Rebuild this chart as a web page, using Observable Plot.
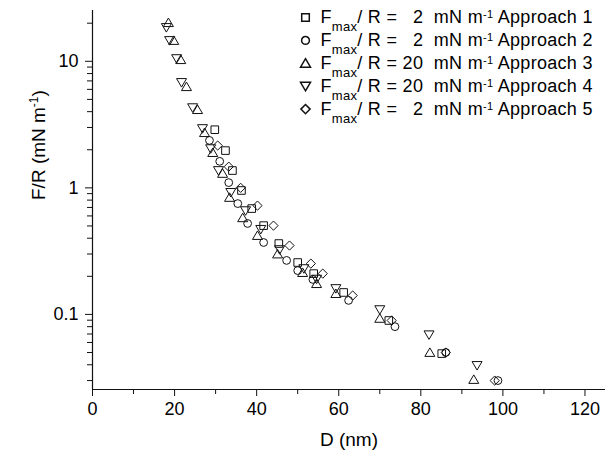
<!DOCTYPE html>
<html><head><meta charset="utf-8">
<script src="https://cdn.jsdelivr.net/npm/d3@7"></script>
<script src="https://cdn.jsdelivr.net/npm/@observablehq/plot@0.6"></script>
<style>
body{margin:0;background:#fff;}
svg text{font-family:"Liberation Sans",Arial,sans-serif;}
</style>
</head><body><div id="chart"></div>
<script>
// Approach 1 (squares), Fmax/R = 2 mN/m
const D1 = [29.8,32.4,34.1,36.3,38.8,41.7,45.4,50.0,53.9,61.2,72.2,85.1];
const F1 = [2.88,1.97,1.37,0.953,0.686,0.503,0.363,0.257,0.210,0.149,0.0895,0.049];
// Approach 2 (circles), Fmax/R = 2 mN/m
const D2 = [28.5,31.0,33.2,35.4,37.8,41.7,47.3,50.0,53.7,62.4,73.7,86.1,98.8];
const F2 = [2.37,1.62,1.10,0.751,0.523,0.370,0.267,0.222,0.189,0.129,0.080,0.050,0.030];
// Approach 3 (up triangles), Fmax/R = 20 mN/m
const D3 = [18.5,19.8,21.5,22.9,25.6,27.3,29.3,31.7,33.4,36.6,40.2,45.1,51.2,54.6,59.3,70.0,82.2,92.9];
const F3 = [20.2,14.6,10.3,6.3,4.15,2.73,1.90,1.30,0.84,0.58,0.42,0.30,0.214,0.175,0.146,0.093,0.050,0.0306];
// Approach 4 (down triangles), Fmax/R = 20 mN/m
const D4 = [18.0,18.8,20.5,21.7,24.4,26.8,28.8,30.7,33.7,37.3,41.0,45.6,51.5,54.6,59.3,70.0,82.0,93.7];
const F4 = [18.5,14.6,10.5,6.8,4.3,2.94,2.04,1.37,0.92,0.66,0.47,0.325,0.23,0.19,0.16,0.109,0.069,0.0395];
// Approach 5 (diamonds), Fmax/R = 2 mN/m
const D5 = [30.5,33.2,36.1,40.2,44.1,48.0,53.2,56.1,63.4,72.9,86.1,98.0];
const F5 = [2.16,1.47,1.00,0.724,0.503,0.350,0.252,0.210,0.141,0.0895,0.050,0.030];

const xMajor = [0,20,40,60,80,100,120];
const xMinor = [10,30,50,70,90,110];
const yMajor = [0.1,1,10];
const yMinor = [0.03,0.04,0.05,0.06,0.07,0.08,0.09,0.2,0.3,0.4,0.5,0.6,0.7,0.8,0.9,2,3,4,5,6,7,8,9,20];

const legendFmax = ["\u20072","\u20072","20","20","\u20072"];
const legendNames = ["Approach 1","Approach 2","Approach 3","Approach 4","Approach 5"];

// symbols
const sq = {draw(c){const h=3.8;c.moveTo(-h,-h);c.lineTo(h,-h);c.lineTo(h,h);c.lineTo(-h,h);c.closePath();}};
const ci = {draw(c){const a=3.9;c.moveTo(a,0);c.arc(0,0,a,0,2*Math.PI);c.closePath();}};
const up = {draw(c){c.moveTo(0,-4.6);c.lineTo(5,3.9);c.lineTo(-5,3.9);c.closePath();}};
const dn = {draw(c){c.moveTo(0,4.6);c.lineTo(5,-3.9);c.lineTo(-5,-3.9);c.closePath();}};
const di = {draw(c){const a=4.6;c.moveTo(0,-a);c.lineTo(a,0);c.lineTo(0,a);c.lineTo(-a,0);c.closePath();}};

const series = [
  {D:D1,F:F1,sym:sq},{D:D2,F:F2,sym:ci},{D:D3,F:F3,sym:up},{D:D4,F:F4,sym:dn},{D:D5,F:F5,sym:di}
];

const INK = "#111";
const marks = [];
// axis lines
marks.push(Plot.ruleX([0],{stroke:INK,strokeWidth:1.2}));
marks.push(Plot.ruleY([0.0255],{stroke:INK,strokeWidth:1.2}));
// axes
marks.push(Plot.axisX({ticks:xMajor,tickSize:7,tickPadding:6,fontSize:18,label:null,tickFormat:d=>String(d),stroke:INK}));
marks.push(Plot.axisX({ticks:xMinor,tickSize:5,text:null,label:null,stroke:INK}));
marks.push(Plot.axisY({ticks:yMajor,tickSize:7,tickPadding:7,fontSize:18,label:null,tickFormat:d=>String(d),stroke:INK}));
marks.push(Plot.axisY({ticks:yMinor,tickSize:5,text:null,label:null,stroke:INK}));
// data
series.forEach(s=>{
  marks.push(Plot.dot(s.D.map((d,i)=>({D:d,F:s.F[i]})),{x:"D",y:"F",symbol:s.sym,r:4,fill:"none",stroke:INK,strokeWidth:1}));
});
// legend
const syms=[sq,ci,up,dn,di];
legendNames.forEach((n,i)=>{
  const dy = 7 + i*22.9;
  marks.push(Plot.dot([0],{x:null,y:null,frameAnchor:"top-left",dx:213,dy,symbol:syms[i],r:4,fill:"none",stroke:INK}));
  marks.push(Plot.text([`LEG${i}`],{frameAnchor:"top-left",dx:228,dy,textAnchor:"start",lineAnchor:"middle",fontSize:18,fill:"#000"}));
});
// axis labels
marks.push(Plot.text(["XLABEL"],{frameAnchor:"bottom",dy:50,lineAnchor:"middle",fontSize:19,fill:"#000",text:()=>"D (nm)"}));
marks.push(Plot.text(["YLABEL"],{frameAnchor:"left",dx:-54,rotate:-90,lineAnchor:"middle",fontSize:19,fill:"#000"}));

const svg = Plot.plot({
  width:613,height:458,
  marginLeft:92,marginRight:8,marginTop:10,marginBottom:69,
  x:{domain:[0,125]},
  y:{type:"log",domain:[0.0255,25.2]},
  style:{fontFamily:"Liberation Sans, Arial, sans-serif",color:"#000",background:"#fff"},
  marks
});
document.getElementById("chart").appendChild(svg);

function rich(el, parts){
  el.textContent="";
  parts.forEach(p=>{
    const t=document.createElementNS("http://www.w3.org/2000/svg","tspan");
    t.textContent=p.t;
    if(p.fs) t.setAttribute("font-size",p.fs);
    if(p.dy) t.setAttribute("dy",p.dy);
    el.appendChild(t);
  });
}
d3.select(svg).selectAll("text").each(function(){
  const s=this.textContent;
  const m=s.match(/^LEG(\d)$/);
  if(m){
    const i=+m[1];
    this.setAttribute("letter-spacing","0.3");
    rich(this,[
      {t:"F"},{t:"max",fs:13,dy:8},{t:"/ R = "+legendFmax[i]+"\u00a0\u00a0mN m",dy:-8},
      {t:"-1",fs:11,dy:-5},{t:" "+legendNames[i],dy:5}
    ]);
  } else if(s==="YLABEL"){
    rich(this,[{t:"F/R (mN m"},{t:"-1",fs:12,dy:-7},{t:")",dy:7}]);
  }
});
</script>
</body></html>
